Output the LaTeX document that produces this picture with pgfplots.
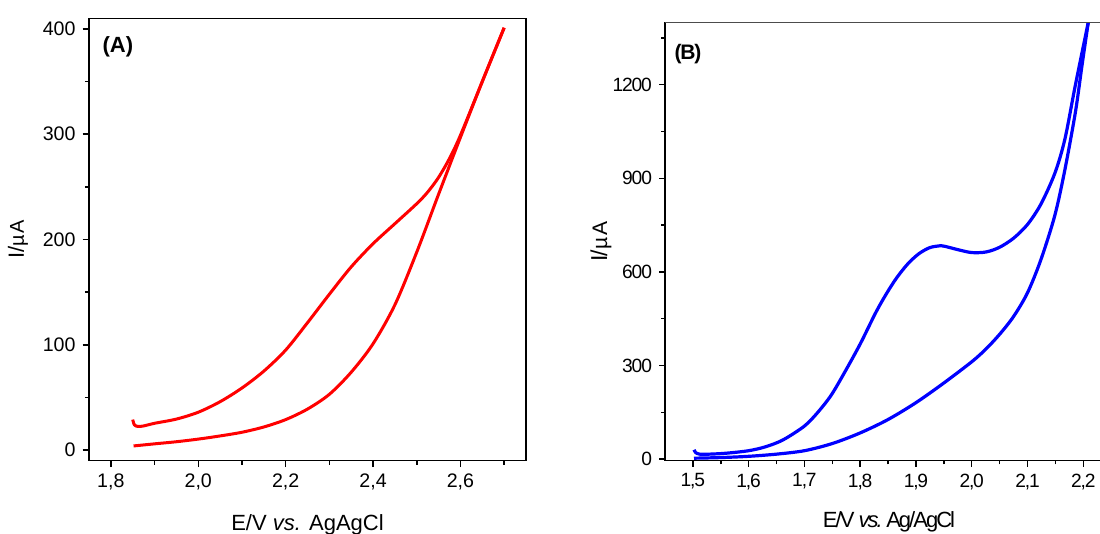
\documentclass[border=0pt]{standalone}
\usepackage{fontspec}
\setmainfont{Liberation Sans}
\newfontfamily\condfont[LetterSpace=-6]{Liberation Sans}
\newfontfamily\condlabel[LetterSpace=-9]{Liberation Sans}
\usepackage{pgfplots}
\pgfplotsset{compat=1.18}

\pgfplotstableread{
x y
1.852 4
1.900 6
1.950 8
2.000 10.5
2.050 13.5
2.100 17
2.150 22
2.200 29
2.250 39
2.300 53
2.350 74
2.400 101
2.450 138
2.500 188
2.550 243
2.600 297
2.650 350
2.700 401
}\fwdA

\pgfplotstableread{
x y
2.700 401
2.650 350
2.600 299
2.575 277
2.550 259
2.525 245
2.500 234
2.450 215
2.400 196
2.350 174
2.300 148
2.250 121
2.200 95
2.150 75
2.100 59
2.050 46
2.000 36
1.950 29.5
1.900 25.5
1.875 23
1.862 22.5
1.854 24
1.850 29
}\revA

\pgfplotstableread{
x y
1.502 3
1.550 5
1.600 9
1.650 16
1.700 27
1.750 50
1.800 84
1.850 127
1.900 181
1.950 244
2.000 312
2.025 352
2.050 400
2.075 457
2.100 533
2.124 639
2.149 781
2.167 927
2.186 1113
2.198 1265
2.209 1400
}\fwdB

\pgfplotstableread{
x y
2.209 1400
2.186 1200
2.167 1025
2.149 916
2.124 817
2.100 752
2.075 708
2.050 679
2.026 664
2.000 662
1.976 671
1.952 682
1.945 684
1.925 678
1.905 658
1.885 625
1.865 580
1.847 530
1.828 470
1.800 369
1.773 281
1.748 205
1.724 150
1.700 106
1.662 62
1.631 40
1.600 27
1.560 19
1.530 16
1.512 16
1.505 21
1.502 30
}\revB

\begin{document}
\begin{tikzpicture}
\useasboundingbox (0,0) rectangle (550pt,267pt);
% ---------------- Panel A ----------------
\begin{axis}[
  at={(44.5pt,36.65pt)}, anchor=south west, scale only axis,
  width=218.5pt, height=221.2pt,
  xmin=1.75, xmax=2.75, ymin=-10, ymax=410,
  xtick={1.8,2.0,2.2,2.4,2.6}, minor xtick={1.9,2.1,2.3,2.5,2.7},
  ytick={0,100,200,300,400}, minor ytick={50,150,250,350},
  tick pos=left, tick align=outside,
  major tick length=3.2pt, minor tick length=2pt,
  axis line style={line width=0.75pt},
  tick style={black, line width=0.75pt},
  /pgf/number format/assume math mode=true,
  /pgf/number format/1000 sep={},
  xticklabel style={font=\fontsize{9.8}{10}\selectfont, /pgf/number format/.cd, fixed, fixed zerofill, precision=1, use comma},
  yticklabel style={font=\fontsize{9.8}{10}\selectfont},
  xlabel={E/V \textit{vs.} AgAgCl},
  ylabel={I/\kern0.3pt{\fontsize{10}{10}\selectfont µ\kern0.6pt A}},
  xlabel style={font=\fontsize{11}{12}\selectfont, at={(axis description cs:0.5,-0.1567)}, anchor=base},
  ylabel style={font=\fontsize{11}{12}\selectfont, at={(axis description cs:-0.1625,0.5)}, anchor=center},
]
\addplot[red, line width=1.5pt, smooth, tension=0.5] table {\fwdA};
\addplot[red, line width=1.5pt, smooth, tension=0.5] table {\revA};
\node[font=\bfseries\fontsize{11}{12}\selectfont] at (rel axis cs:0.066,0.935) {(A)};
\end{axis}
% ---------------- Panel B ----------------
\begin{axis}[
  at={(332.5pt,36.65pt)}, anchor=south west, scale only axis,
  width=217.5pt, height=219.2pt,
  xmin=1.45, xmax=2.23, ymin=-5, ymax=1400,
  axis lines=left, axis line style={-, line width=0.75pt},
  xtick={1.5,1.6,1.7,1.8,1.9,2.0,2.1,2.2}, minor xtick={1.55,1.65,1.75,1.85,1.95,2.05,2.15},
  ytick={0,300,600,900,1200}, minor ytick={150,450,750,1050,1350},
  tick align=outside,
  major tick length=3pt, minor tick length=1.8pt,
  tick style={black, line width=0.75pt},
  /pgf/number format/assume math mode=true,
  /pgf/number format/1000 sep={},
  xticklabel style={font=\condfont\fontsize{9.6}{10}\selectfont, /pgf/number format/.cd, fixed, fixed zerofill, precision=1, use comma},
  yticklabel style={font=\condfont\fontsize{9.6}{10}\selectfont},
  xlabel={E/V \textit{vs.} Ag/AgCl},
  ylabel={I/\kern0.3pt{\fontsize{10.5}{10}\selectfont µ\kern0.6pt A}},
  xlabel style={font=\condlabel\fontsize{11}{12}\selectfont, at={(axis description cs:0.515,-0.1535)}, anchor=base},
  ylabel style={font=\condfont\fontsize{11.5}{12}\selectfont, at={(axis description cs:-0.147,0.5)}, anchor=center},
  after end axis/.code={\draw[line width=0.75pt, black!70] (rel axis cs:0,1) -- (rel axis cs:1,1);},
]
\addplot[blue, line width=1.6pt, smooth, tension=0.5] table {\fwdB};
\addplot[blue, line width=1.6pt, smooth, tension=0.5] table {\revB};
\node[font=\condfont\bfseries\fontsize{10.5}{11}\selectfont] at (rel axis cs:0.053,0.928) {(B)};
\end{axis}
\end{tikzpicture}
\end{document}
